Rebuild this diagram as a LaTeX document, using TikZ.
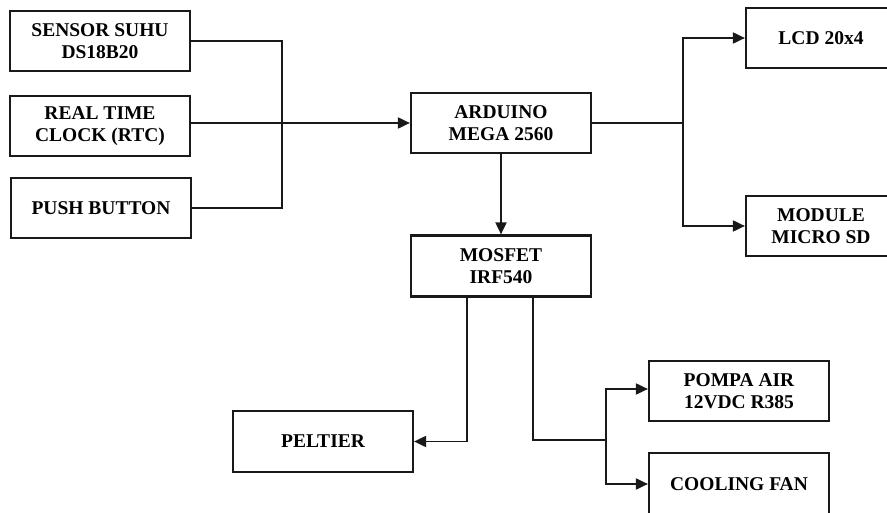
\documentclass[tikz,border=0pt]{standalone}
\usepackage{fontspec}
\setmainfont{Liberation Serif}
\usetikzlibrary{arrows.meta}
\begin{document}
\begin{tikzpicture}[x=1pt,y=-1pt,
  blk/.style={draw=black!90, line width=2.2pt, minimum width=180pt, minimum height=60pt,
    inner sep=0pt, align=center, font=\fontsize{19.5}{22}\selectfont\bfseries},
  conn/.style={line width=1.9pt, draw=black!90},
  arr/.style={conn, -{Triangle[length=12pt,width=11pt]}}]
\useasboundingbox (0,0) rectangle (887,513);
% nodes
\node[blk] (sensor) at (100,41) {SENSOR SUHU\\DS18B20};
\node[blk] (rtc) at (100,126) {REAL TIME\\CLOCK (RTC)};
\node[blk] (push) at (101,208) {PUSH BUTTON};
\node[blk] (arduino) at (501,123) {ARDUINO\\MEGA 2560};
\node[blk, minimum height=61pt] (mosfet) at (501,266) {MOSFET\\IRF540};
\node[blk, minimum width=150pt] (lcd) at (821,38) {LCD 20x4};
\node[blk, minimum width=150pt] (sd) at (821,226) {MODULE\\MICRO SD};
\node[blk, minimum height=61pt] (peltier) at (323,441.5) {PELTIER};
\node[blk] (pompa) at (739,391) {POMPA AIR\\12VDC R385};
\node[blk, minimum height=62pt] (fan) at (739,484) {COOLING FAN};
% junctions
\coordinate (j1) at (282,123);
\coordinate (j2) at (683,123);
\coordinate (j3) at (606,440);
% connectors
\draw[conn] (sensor.east) -| (j1);
\draw[conn] (push.east) -| (j1);
\draw[arr] (rtc.east |- arduino.west) -- (arduino.west);
\draw[conn] (arduino.east) -- (j2);
\draw[arr] (j2) |- (lcd.west);
\draw[arr] (j2) |- (sd.west);
\draw[arr] (arduino.south) -- (mosfet.north);
\draw[arr] ([xshift=-34pt]mosfet.south) |- (peltier.east);
\draw[conn] ([xshift=32pt]mosfet.south) |- (j3);
\draw[arr] (j3) |- ([yshift=2pt]pompa.west);
\draw[arr] (j3) |- (fan.west);
\end{tikzpicture}
\end{document}
